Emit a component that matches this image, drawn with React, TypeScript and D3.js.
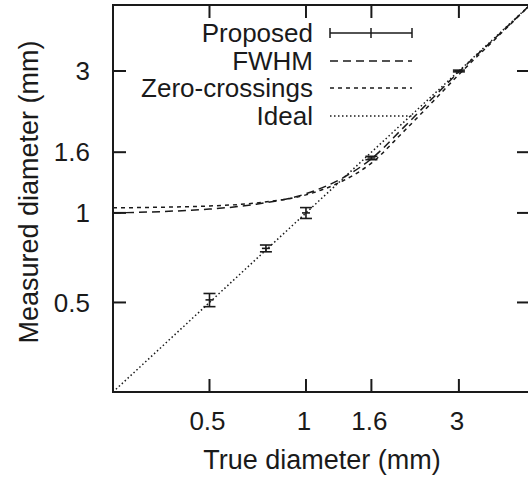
import React, { useEffect, useRef } from 'react';
import * as d3 from 'd3';

// proposed method, with error bars
const trueDiam = [0.5, 0.75, 1, 1.6, 3];
const measured = [0.51, 0.76, 1.0, 1.53, 3.0];
const measuredErr = [0.026, 0.02, 0.042, 0.02, 0.02];

// fitted curves
const curveX = [0.25, 0.35, 0.5, 0.7, 1, 1.3, 1.6, 2, 2.5, 3, 4, 5];
const fwhmY = [1.0, 1.01, 1.03, 1.07, 1.16, 1.31, 1.52, 1.92, 2.45, 2.98, 3.98, 5.0];
const zeroY = [1.04, 1.045, 1.055, 1.08, 1.15, 1.28, 1.47, 1.86, 2.38, 2.92, 3.95, 5.0];
const idealX = [0.25, 5];

const tickValues = [0.5, 1, 1.6, 3];
const legendLabels = ['Proposed', 'FWHM', 'Zero-crossings', 'Ideal'];

const App = () => {
    const ref = useRef<SVGSVGElement>(null);

    useEffect(() => {
        const svg = d3.select(ref.current);
        svg.selectAll('*').remove();

        const left = 113, right = 530, top = 5, bottom = 392;
        const ink = '#1a1a1a';
        const font = 'Liberation Sans, Arial, sans-serif';

        const x = d3.scaleLog().domain([0.25, 5]).range([left, right]);
        const y = d3.scaleLog().domain([0.25, 5]).range([bottom, top]);

        const line = d3.line<[number, number]>()
            .x(d => x(d[0]))
            .y(d => y(d[1]))
            .curve(d3.curveMonotoneX);

        const g = svg.append('g');

        // ideal
        g.append('path')
            .attr('d', line(idealX.map(v => [v, v]) as [number, number][]))
            .attr('fill', 'none').attr('stroke', ink).attr('stroke-width', 1.5)
            .attr('stroke-dasharray', '1.5,2.5');

        // FWHM
        g.append('path')
            .attr('d', line(curveX.map((v, i) => [v, fwhmY[i]]) as [number, number][]))
            .attr('fill', 'none').attr('stroke', ink).attr('stroke-width', 1.5)
            .attr('stroke-dasharray', '8,5');

        // zero-crossings
        g.append('path')
            .attr('d', line(curveX.map((v, i) => [v, zeroY[i]]) as [number, number][]))
            .attr('fill', 'none').attr('stroke', ink).attr('stroke-width', 1.5)
            .attr('stroke-dasharray', '4,4');

        // error bars
        const eb = g.selectAll('g.eb')
            .data(trueDiam.map((v, i) => ({ x: v, y: measured[i], e: measuredErr[i] })))
            .enter().append('g').attr('stroke', ink).attr('stroke-width', 1.6);
        eb.append('line')
            .attr('x1', d => x(d.x)).attr('x2', d => x(d.x))
            .attr('y1', d => y(d.y - d.e)).attr('y2', d => y(d.y + d.e));
        eb.append('line')
            .attr('x1', d => x(d.x) - 6).attr('x2', d => x(d.x) + 6)
            .attr('y1', d => y(d.y - d.e)).attr('y2', d => y(d.y - d.e));
        eb.append('line')
            .attr('x1', d => x(d.x) - 6).attr('x2', d => x(d.x) + 6)
            .attr('y1', d => y(d.y + d.e)).attr('y2', d => y(d.y + d.e));
        eb.append('line')
            .attr('x1', d => x(d.x) - 4).attr('x2', d => x(d.x) + 4)
            .attr('y1', d => y(d.y)).attr('y2', d => y(d.y));

        // frame
        svg.append('rect')
            .attr('x', left).attr('y', top)
            .attr('width', right - left).attr('height', bottom - top)
            .attr('fill', 'none').attr('stroke', ink).attr('stroke-width', 2);

        // ticks
        const tl = 13;
        tickValues.forEach(v => {
            svg.append('line').attr('x1', x(v)).attr('x2', x(v)).attr('y1', bottom).attr('y2', bottom - tl)
                .attr('stroke', ink).attr('stroke-width', 2);
            svg.append('line').attr('x1', x(v)).attr('x2', x(v)).attr('y1', top).attr('y2', top + tl)
                .attr('stroke', ink).attr('stroke-width', 2);
            svg.append('line').attr('x1', left).attr('x2', left + tl).attr('y1', y(v)).attr('y2', y(v))
                .attr('stroke', ink).attr('stroke-width', 2);
            svg.append('line').attr('x1', right - tl).attr('x2', right).attr('y1', y(v)).attr('y2', y(v))
                .attr('stroke', ink).attr('stroke-width', 2);
            svg.append('text').attr('x', x(v) - 2).attr('y', 430)
                .attr('text-anchor', 'middle').attr('font-size', 26).attr('font-family', font)
                .attr('fill', ink).text(String(v));
            svg.append('text').attr('x', 90).attr('y', y(v)).attr('dy', '0.35em')
                .attr('text-anchor', 'end').attr('font-size', 26).attr('font-family', font)
                .attr('fill', ink).text(String(v));
        });

        // axis titles
        svg.append('text').attr('x', 322).attr('y', 469)
            .attr('text-anchor', 'middle').attr('font-size', 27).attr('font-family', font)
            .attr('fill', ink).text('True diameter (mm)');
        svg.append('text').attr('transform', 'translate(38,192) rotate(-90)')
            .attr('text-anchor', 'middle').attr('font-size', 27).attr('font-family', font)
            .attr('fill', ink).text('Measured diameter (mm)');

        // legend
        const rowY = [33, 61, 88, 116];
        const dashes = [null, '8,5', '4,4', '1.5,2.5'];
        legendLabels.forEach((lab, i) => {
            svg.append('text').attr('x', 313).attr('y', rowY[i]).attr('dy', '0.35em')
                .attr('text-anchor', 'end').attr('font-size', 26).attr('font-family', font)
                .attr('fill', ink).text(lab);
            const sl = svg.append('line').attr('x1', 330).attr('x2', 412)
                .attr('y1', rowY[i]).attr('y2', rowY[i])
                .attr('stroke', ink).attr('stroke-width', 1.5);
            if (dashes[i]) sl.attr('stroke-dasharray', dashes[i] as string);
            if (i === 0) {
                [330, 371, 412].forEach(px => {
                    svg.append('line').attr('x1', px).attr('x2', px)
                        .attr('y1', rowY[i] - 5).attr('y2', rowY[i] + 5)
                        .attr('stroke', ink).attr('stroke-width', 1.5);
                });
            }
        });
    }, []);

    return (
        <svg ref={ref} width={528} height={480}
            style={{ position: 'absolute', left: 0, top: 0, background: '#fff' }} />
    );
};

export default App;
